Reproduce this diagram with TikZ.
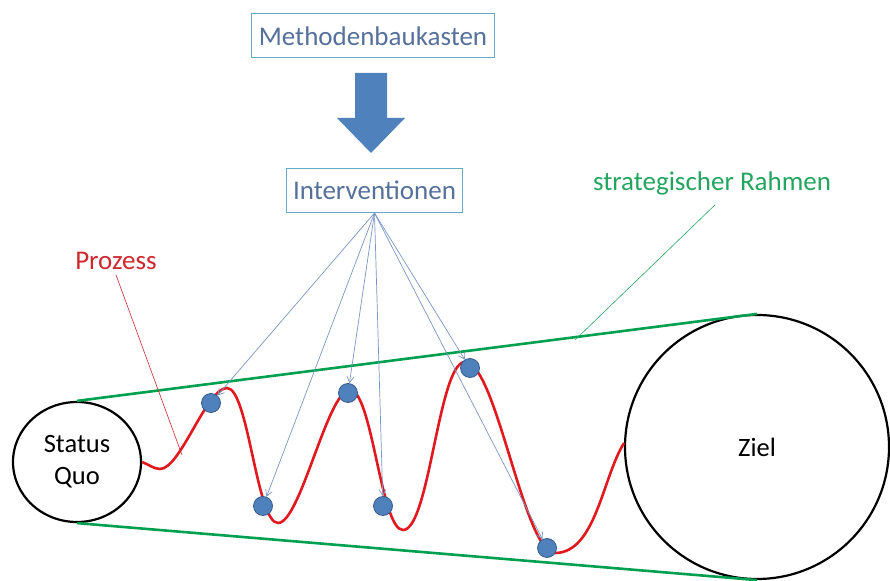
\documentclass[tikz,border=0pt]{standalone}
\usepackage{fontspec}
\setmainfont{Carlito}
\usetikzlibrary{arrows.meta,shapes.geometric}
\definecolor{txtblue}{RGB}{85,112,155}
\definecolor{boxline}{RGB}{100,170,195}
\definecolor{arrowblue}{RGB}{79,129,189}
\definecolor{dotline}{RGB}{56,93,138}
\definecolor{procred}{RGB}{225,25,30}
\definecolor{labred}{RGB}{205,40,45}
\definecolor{frame}{RGB}{0,160,80}
\definecolor{labgreen}{RGB}{35,165,95}
\definecolor{thinblue}{RGB}{120,150,195}
\begin{document}
\begin{tikzpicture}[x=1pt,y=1pt,
  box/.style={draw=boxline,line width=1pt,text=txtblue,font=\fontsize{27}{30}\selectfont,inner xsep=7pt,inner ysep=0pt,minimum height=44pt},
  dot/.style={circle,fill=arrowblue,draw=dotline,line width=0.8pt,minimum size=19pt,inner sep=0pt},
  feed/.style={thinblue,line width=0.7pt,-{Straight Barb[length=6pt,width=7pt]}},
  rahmen/.style={frame,line width=2.6pt},
  ring/.style={draw=black,line width=2.2pt,inner sep=0pt},
  lab/.style={font=\fontsize{27}{30}\selectfont,inner sep=2pt},
  wave/.style={out=0,in=180,looseness=0.38}]
\useasboundingbox (0,0) rectangle (890,580);
% boxes
\node[box] (mb) at (373,544) {Methodenbaukasten};
\node[box] (iv) at (374.5,389.5) {Interventionen};
% big arrow
\fill[arrowblue] (355,507) -- (387,507) -- (387,462) -- (405,462) -- (371,427) -- (337,462) -- (355,462) -- cycle;
% circles
\node[ring,ellipse,minimum width=128pt,minimum height=120pt,align=center,font=\fontsize{26.5}{32}\selectfont] (sq) at (77,118) {Status\\Quo};
\node[ring,circle,minimum size=264pt,font=\fontsize{26.5}{30}\selectfont] (z) at (757,133) {Ziel};
% frame lines
\draw[rahmen] (sq.north) -- (z.north);
\draw[rahmen] (sq.south) -- (z.south);
% process curve
\coordinate (zin) at (624,137);
\draw[procred,line width=2.6pt]
  (sq.east) to[out=-20,in=180,looseness=0.8] (160,111)
  to[out=0,in=180,looseness=0.5] (227,192)
  to[wave] (278,57)
  to[wave] (350,190)
  to[wave] (403,50)
  to[wave] (465,218)
  to[wave] (555,27)
  to[out=0,in=238,looseness=0.8] (zin);
% dots
\node[dot] (d1) at (211,177) {};
\node[dot] (d2) at (263,74) {};
\node[dot] (d3) at (348,187) {};
\node[dot] (d4) at (383,74) {};
\node[dot] (d5) at (470,212) {};
\node[dot] (d6) at (547,32) {};
% intervention arrows
\foreach \d in {d1,d2,d3,d4,d5,d6} \draw[feed] (iv.south) -- (\d);
% labels
\node[lab,text=labred] (pz) at (116,319) {Prozess};
\coordinate (pzend) at (182,125);
\draw[labred,line width=0.6pt] ([yshift=-3pt]pz.south) -- (pzend);
\node[lab,text=labgreen] (sr) at (712,397) {strategischer Rahmen};
\coordinate (srend) at (575,240);
\draw[labgreen,line width=0.6pt] ([shift={(3pt,-8pt)}]sr.south) -- (srend);
\end{tikzpicture}
\end{document}
